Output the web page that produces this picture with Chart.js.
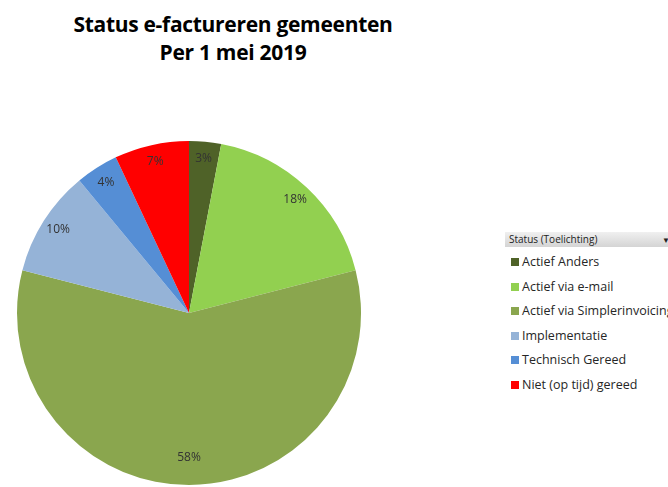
<!DOCTYPE html>
<html>
<head>
<meta charset="utf-8">
<script src="https://cdn.jsdelivr.net/npm/chart.js@4.4.1/dist/chart.umd.min.js"></script>
<style>
  html, body { margin: 0; padding: 0; background: #fff; width: 668px; height: 487px; overflow: hidden; position: relative; font-family: 'Open Sans', 'Noto Sans', sans-serif; }
  #title { position: absolute; left: 0; top: 10px; width: 466px; text-align: center; font-weight: bold; font-size: 21px; line-height: 28px; color: #000; letter-spacing: -0.3px; }
  #pie-wrap { position: absolute; left: 17px; top: 141px; width: 344px; height: 344px; }
  #legend { position: absolute; left: 505px; top: 232px; width: 200px; font-size: 12.5px; color: #262626; }
  #legend .head { height: 15px; line-height: 15px; font-size: 10px; padding-left: 4px; color: #222; background: linear-gradient(#f0f0f0, #d4d4d4); position: relative; width: 159px; }
  #legend .head span { position: absolute; left: 157px; top: 0; font-size: 8px; }
  #legend .items { padding-top: 3px; }
  #legend .item { height: 24.6px; line-height: 24.6px; padding-left: 6px; white-space: nowrap; }
  #legend .sw { display: inline-block; width: 8px; height: 8px; margin-right: 3px; }
</style>
</head>
<body>
<div id="title">Status e-factureren gemeenten<br>Per 1 mei 2019</div>
<div id="pie-wrap"><canvas id="pieChart"></canvas></div>
<div id="legend"></div>
<script>
const labels = ['Actief Anders', 'Actief via e-mail', 'Actief via Simplerinvoicing', 'Implementatie', 'Technisch Gereed', 'Niet (op tijd) gereed'];
const shares = [3, 18, 58, 10, 4, 7];
const colors = ['#4f6228', '#92d050', '#8aa64e', '#95b3d7', '#558ed5', '#ff0000'];
const legendTitle = 'Status (Toelichting)';

// legend like the Excel slicer
const legendEl = document.getElementById('legend');
legendEl.innerHTML = `<div class="head">${legendTitle}<span>▼</span></div><div class="items">` +
    labels.map((l, i) => `<div class="item"><span class="sw" style="background:${colors[i]}"></span>${l}</div>`).join('') + '</div>';

// percentage labels near the outer edge of each slice
const insideEndLabels = {
    id: 'insideEndLabels',
    afterDatasetsDraw(chart) {
        const ctx = chart.ctx;
        const meta = chart.getDatasetMeta(0);
        const total = shares.reduce((a, b) => a + b, 0);
        ctx.save();
        ctx.font = '12px "Open Sans", sans-serif';
        ctx.fillStyle = '#333';
        ctx.textAlign = 'center';
        ctx.textBaseline = 'middle';
        meta.data.forEach((arc, i) => {
            const p = arc.getProps(['x', 'y', 'startAngle', 'endAngle', 'outerRadius']);
            const mid = (p.startAngle + p.endAngle) / 2;
            const r = p.outerRadius - (shares[i] > 30 ? 27 : 17);
            ctx.fillText(Math.round(shares[i] / total * 100) + '%', p.x + Math.cos(mid) * r, p.y + Math.sin(mid) * r);
        });
        ctx.restore();
    }
};

new Chart(document.getElementById('pieChart').getContext('2d'), {
    type: 'pie',
    data: { labels: labels, datasets: [{ data: shares, backgroundColor: colors, borderWidth: 0 }] },
    options: {
        responsive: true, maintainAspectRatio: false, animation: false,
        layout: { padding: 0 },
        plugins: { legend: { display: false }, tooltip: { enabled: false } }
    },
    plugins: [insideEndLabels]
});
</script>
</body>
</html>
